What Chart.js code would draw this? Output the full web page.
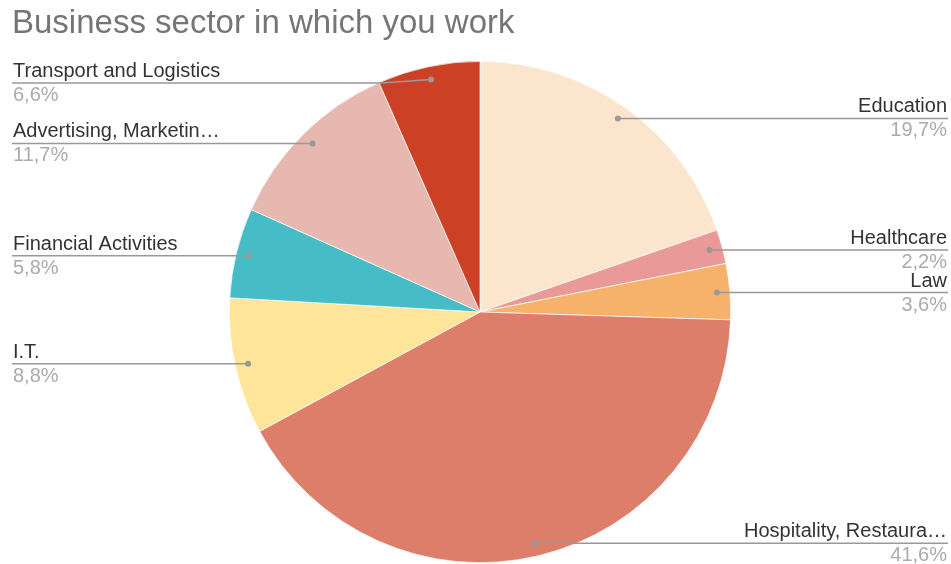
<!DOCTYPE html>
<html>
<head>
<meta charset="utf-8">
<script src="https://cdn.jsdelivr.net/npm/chart.js@4.4.1/dist/chart.umd.min.js"></script>
<style>
  body { margin: 0; background: #fff; }
  #wrap { width: 951px; height: 564px; }
</style>
</head>
<body>
<div id="wrap"><canvas id="sectorChart" width="951" height="564"></canvas></div>
<script>
const chartTitle = 'Business sector in which you work';
const sectors = ['Education', 'Healthcare', 'Law', 'Hospitality, Restaura…', 'I.T.', 'Financial Activities', 'Advertising, Marketin…', 'Transport and Logistics'];
const shares = [19.7, 2.2, 3.6, 41.6, 8.8, 5.8, 11.7, 6.6];
const sliceColors = ['#fce5cd', '#ea9999', '#f6b26b', '#dd7e6b', '#ffe599', '#46bdc6', '#e6b8af', '#cc4125'];

const fmt = v => v.toFixed(1).replace('.', ',') + '%';

// title plus leader lines with name / percent on each side
const sideLabels = {
    id: 'sideLabels',
    afterDatasetsDraw(chart) {
        const ctx = chart.ctx;
        ctx.save();
        ctx.fillStyle = '#757575';
        ctx.font = '33px "Liberation Sans", Arial';
        ctx.textAlign = 'left';
        ctx.textBaseline = 'alphabetic';
        ctx.fillText(chartTitle, 12, 33);

        const meta = chart.getDatasetMeta(0);
        meta.data.forEach((arc, i) => {
            const p = arc.getProps(['x', 'y', 'startAngle', 'endAngle', 'outerRadius']);
            const mid = (p.startAngle + p.endAngle) / 2;
            const r = p.outerRadius - 13;
            const dx = p.x + Math.cos(mid) * r;
            const dy = p.y + Math.sin(mid) * r;
            const right = Math.cos(mid) > 0;
            const ly = Math.max(dy, 83);
            const elbowX = ly !== dy ? (right ? dx + 50 : dx - 50) : dx;

            ctx.strokeStyle = '#999';
            ctx.lineWidth = 1.5;
            ctx.beginPath();
            ctx.moveTo(dx, dy);
            ctx.lineTo(elbowX, ly);
            ctx.lineTo(right ? 948 : 12, ly);
            ctx.stroke();
            ctx.fillStyle = '#999';
            ctx.beginPath();
            ctx.arc(dx, dy, 3, 0, Math.PI * 2);
            ctx.fill();

            ctx.textAlign = right ? 'right' : 'left';
            const tx = right ? 947 : 13;
            ctx.font = '20px "Liberation Sans", Arial';
            ctx.fillStyle = '#333';
            ctx.fillText(sectors[i], tx, ly - 6);
            ctx.fillStyle = '#ababab';
            ctx.fillText(fmt(shares[i]), tx, ly + 18);
        });
        ctx.restore();
    }
};

new Chart(document.getElementById('sectorChart'), {
    type: 'pie',
    data: {
        labels: sectors,
        datasets: [{
            data: shares,
            backgroundColor: sliceColors,
            borderColor: '#ffffff',
            borderWidth: 0.7
        }]
    },
    options: {
        responsive: false,
        animation: false,
        layout: { padding: { top: 61, bottom: 1, left: 229, right: 220 } },
        plugins: {
            legend: { display: false },
            tooltip: { enabled: false }
        }
    },
    plugins: [sideLabels]
});
</script>
</body>
</html>
